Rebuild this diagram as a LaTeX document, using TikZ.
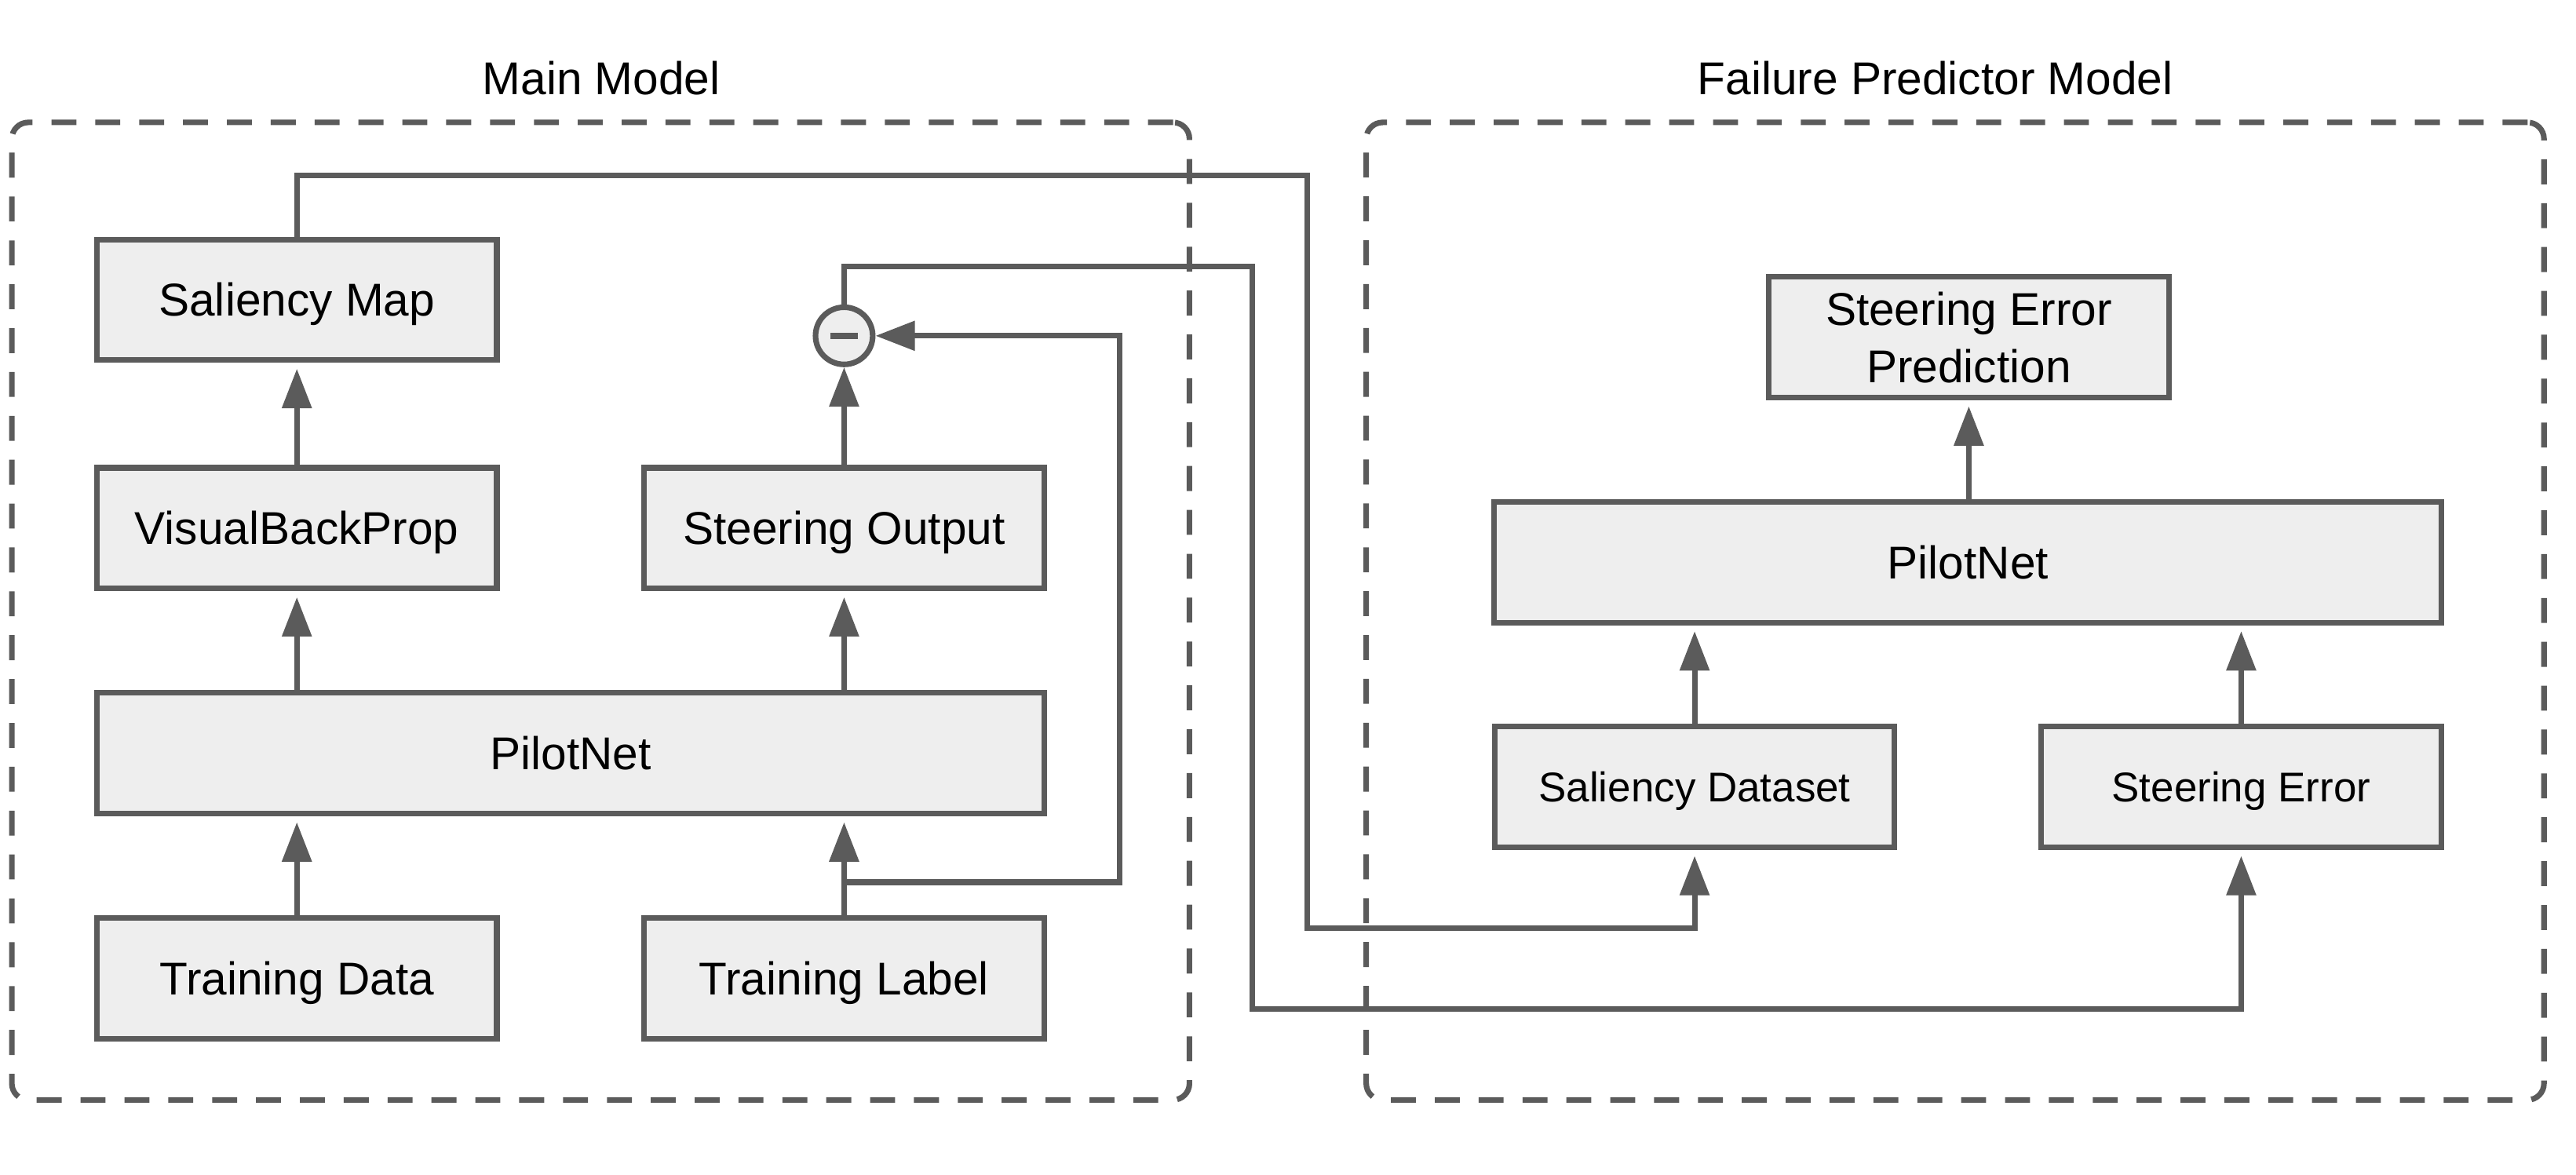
\documentclass[tikz,border=0pt]{standalone}
\usepackage{fontspec}
\setmainfont{Liberation Sans}
\usetikzlibrary{arrows.meta}
\definecolor{lg}{HTML}{5B5B5B}
\definecolor{bf}{HTML}{EEEEEE}
\begin{document}
\begin{tikzpicture}[x=1pt,y=-1pt,
  box/.style={draw=lg, fill=bf, line width=3.4pt, inner sep=0pt,
    minimum width=243.4pt, minimum height=73.5pt,
    font=\fontsize{28}{34.8}\selectfont},
  oneline/.style={text height=20pt, text depth=0pt},
  wide/.style={minimum width=576.6pt},
  small/.style={font=\fontsize{25.3}{30}\selectfont, text height=18.1pt, text depth=0pt},
  conn/.style={draw=lg, line width=3.4pt},
  arr/.style={conn, -{Triangle[length=24pt,width=17.5pt]}, shorten >=3.5pt},
  arrc/.style={conn, -{Triangle[length=24pt,width=17.5pt]}},
  grp/.style={draw=lg, line width=3.4pt, dash pattern=on 15.2pt off 11.5pt,
    rounded corners=10pt, inner sep=0pt, minimum height=595pt},
  title/.style={font=\fontsize{28}{34}\selectfont, anchor=base, inner sep=0pt}
]
\useasboundingbox (0,0) rectangle (1568,715);

% containers
\node[grp, minimum width=716.8pt] (gmain) at (365.6,372) {};
\node[grp, minimum width=716.9pt] (gfail) at (1190.05,372) {};
\node[title] (t1) at (366,57.7) {Main Model};
\node[title] (t2) at (1178,57.7) {Failure Predictor Model};

% main model
\node[box,oneline] (sal) at (180.7,182.5) {Saliency Map};
\node[box,oneline] (vbp) at (180.7,321.5) {VisualBackProp};
\node[box,oneline] (so) at (513.8,321.5) {Steering Output};
\node[box,oneline,wide] (pn1) at (347.3,458.5) {PilotNet};
\node[box,oneline] (td) at (180.7,595.5) {Training Data};
\node[box,oneline] (tl) at (513.8,595.5) {Training Label};
\node[circle, draw=lg, fill=bf, line width=3.4pt, minimum size=34.8pt, inner sep=0pt]
  (minus) at (513.8,204.4) {\textcolor{lg}{\rule[-2pt]{17pt}{4pt}}};

% failure predictor
\node[box,align=center] (sep) at (1198.4,205.3) {Steering Error\\Prediction};
\node[box,oneline,wide] (pn2) at (1197.9,342.2) {PilotNet};
\node[box,small] (sd) at (1031.5,479) {Saliency Dataset};
\node[box,small] (se) at (1364.2,479) {Steering Error};

% route coordinates
\coordinate (r1a) at (795.8,106.7);
\coordinate (r1b) at (795.8,564.9);
\coordinate (r2a) at (762.4,162);
\coordinate (r2b) at (762.4,614.3);
\coordinate (brch) at (513.8,537);
\coordinate (fbk) at (681.6,537);

% connectors main
\draw[arr] (td.north) -- (td.north |- pn1.south);
\draw[arr] (tl.north) -- (tl.north |- pn1.south);
\draw[arr] (vbp.south |- pn1.north) -- (vbp.south);
\draw[arr] (so.south |- pn1.north) -- (so.south);
\draw[arr] (vbp.north) -- (sal.south);
\draw[arrc] (so.north) -- (minus.south);
\draw[arrc] (brch) -- (fbk) |- (minus.east);

% connectors failure predictor
\draw[arr] (sd.north) -- (sd.north |- pn2.south);
\draw[arr] (se.north) -- (se.north |- pn2.south);
\draw[arr] (sep.south |- pn2.north) -- (sep.south);

% cross connectors
\draw[arr] (sal.north) |- (r1a) -- (r1b) -| (sd.south);
\draw[arr] (minus.north) |- (r2a) -- (r2b) -| (se.south);
\end{tikzpicture}
\end{document}
